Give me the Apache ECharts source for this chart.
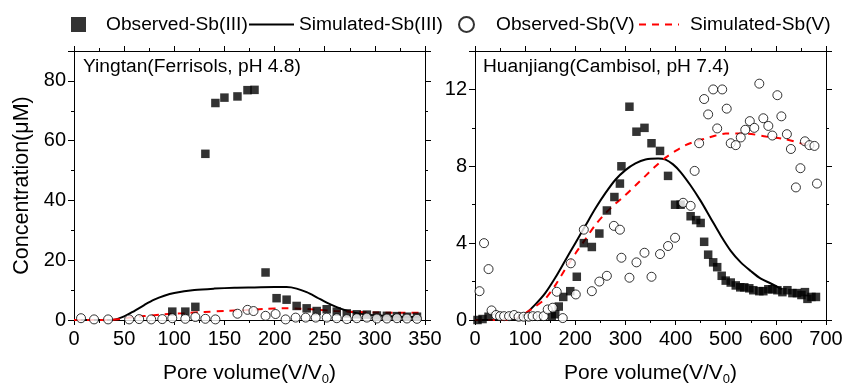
<!DOCTYPE html>
<html>
<head>
<meta charset="utf-8">
<script src="https://cdn.jsdelivr.net/npm/echarts@6/dist/echarts.min.js"></script>
<style>
  html, body { margin: 0; padding: 0; background: #fff; }
  #chart { width: 845px; height: 390px; }
</style>
</head>
<body>
<div id="chart"></div>
<script>
// Yingtan (left panel)
var ytObs3 = [[98,2.8],[111,2.8],[121,4.4],[131,55.6],[141,72.6],[150,74.4],[163,74.8],[173,76.9],[180,77.0],
  [191,15.9],[202,7.3],[212,6.8],[222,4.7],[232,3.9],[242,3.0],[252,3.6],[262,2.8],[272,2.2],[282,1.9],
  [292,1.8],[302,1.5],[312,1.4],[322,1.3],[332,1.1],[342,1.1]];
var ytObs5 = [[7,0.6],[20,0.2],[34,0.2],[55,0.2],[65,0.3],[77,0.2],[88,0.3],[98,0.6],[111,0.4],[121,1.0],
  [131,0.4],[141,0.2],[163,2.1],[173,3.4],[179,3.0],[191,1.4],[201,2.0],[211,0.2],[221,0.8],[231,0.8],
  [241,0.8],[252,0.8],[262,0.6],[272,0.3],[282,0.6],[292,0.8],[302,0.5],[312,0.5],[322,0.6],[332,0.5],[342,0.4]];
var ytSim3 = [[0,0],[30,0],[40,0.1],[50,1.2],[60,3.0],[70,5.0],[80,6.8],[90,8.1],[100,9.0],[120,10.0],
  [140,10.5],[160,10.8],[180,10.9],[200,11.0],[212,11.0],[222,10.5],[232,9.3],[242,7.6],[252,5.8],
  [262,4.3],[272,3.1],[282,2.3],[292,1.8],[305,1.5],[320,1.2],[345,1.0]];
var ytSim5 = [[0,0],[35,0],[45,0.3],[55,0.8],[70,1.3],[90,1.9],[110,2.3],[130,2.7],[150,3.0],[170,3.3],
  [190,3.7],[210,3.9],[225,3.8],[240,3.5],[260,3.0],[280,2.7],[300,2.5],[320,2.4],[345,2.4]];

// Huanjiang (right panel)
var hjObs3 = [[5,0],[15,0.05],[27,0.17],[153,0.2],[160,0.3],[167,0.7],[176,1.2],[190,1.5],[203,2.25],
  [217,4.0],[233,3.8],[248,4.5],[263,5.7],[278,6.4],[289,7.1],[292,8.0],[308,11.1],[322,9.8],[338,10.0],
  [352,9.2],[369,8.8],[385,7.5],[399,6.0],[410,6.0],[430,5.4],[441,5.2],[450,5.05],[457,4.07],[465,3.4],
  [475,3.0],[483,2.75],[492,2.3],[500,2.05],[510,1.95],[520,1.8],[529,1.7],[537,1.7],[547,1.65],[555,1.55],
  [567,1.5],[575,1.5],[585,1.6],[593,1.6],[603,1.55],[613,1.45],[623,1.55],[633,1.4],[642,1.4],[651,1.3],
  [658,1.45],[663,1.1],[671,1.2],[680,1.2]];
var hjObs5 = [[9,1.5],[18,4.0],[27,2.65],[33,0.5],[42,0.26],[50,0.2],[58,0.2],[68,0.2],[78,0.26],[87,0.17],
  [97,0.17],[107,0.17],[115,0.2],[125,0.2],[137,0.2],[145,0.55],[155,0.64],[163,1.47],[175,0.1],[191,2.95],
  [201,1.33],[217,4.7],[233,1.5],[248,2.0],[263,2.3],[277,4.9],[289,4.7],[292,3.24],[308,2.2],[322,3.0],
  [338,3.5],[352,2.25],[369,3.43],[385,3.85],[399,4.28],[415,6.1],[430,5.94],[438,7.76],[447,9.2],[457,11.5],
  [465,10.7],[475,12.0],[483,9.97],[493,12.0],[502,11.0],[510,9.2],[520,9.1],[530,9.5],[539,9.9],[548,10.35],
  [557,10.0],[567,12.3],[575,10.5],[585,10.1],[593,9.6],[603,11.7],[611,10.6],[622,9.67],[630,8.9],[640,6.9],
  [649,7.9],[658,9.3],[667,9.1],[677,9.06],[682,7.1]];
var hjSim3 = [[0,0],[80,0],[90,0.15],[100,0.3],[120,0.8],[140,1.4],[160,2.2],[180,3.1],[200,4.0],[220,4.9],
  [240,5.8],[260,6.6],[280,7.3],[300,7.8],[320,8.15],[340,8.35],[365,8.4],[380,8.35],[395,8.1],[410,7.7],
  [430,7.0],[450,6.2],[470,5.3],[490,4.4],[510,3.6],[530,3.0],[550,2.55],[570,2.15],[590,1.9],[612,1.6]];
var hjSim5 = [[0,0],[60,0],[80,0.1],[100,0.35],[120,0.7],[140,1.1],[160,1.8],[180,2.65],[200,3.45],[220,4.2],
  [240,4.95],[260,5.55],[280,6.05],[300,6.5],[320,7.0],[340,7.5],[360,8.0],[380,8.45],[400,8.8],[420,9.1],
  [440,9.3],[460,9.45],[480,9.6],[500,9.7],[540,9.7],[580,9.55],[620,9.4],[650,9.2],[670,9.1]];

var names = ['Observed-Sb(III)', 'Simulated-Sb(III)', 'Observed-Sb(V)', 'Simulated-Sb(V)'];
var titles = ['Yingtan(Ferrisols, pH 4.8)', 'Huanjiang(Cambisol, pH 7.4)'];

var font = 'Liberation Sans, Arial, sans-serif';
var xName = 'Pore volume(V/V{sub|0})';

function xAxisOf(grid, max, interval, pos) {
  var bottom = pos === 'bottom';
  return {
    type: 'value', gridIndex: grid, position: pos, min: 0, max: max, interval: interval,
    name: bottom ? xName : '', nameLocation: 'middle', nameGap: 40,
    nameTextStyle: { fontFamily: font, fontSize: 21, color: '#000',
      rich: { sub: { fontFamily: font, fontSize: 13, color: '#000', padding: [13, 0, 0, 0] } } },
    axisLine: { show: true, onZero: false, lineStyle: { color: '#000', width: 1 } },
    axisTick: { show: true, inside: false, length: 5, lineStyle: { color: '#000' } },
    minorTick: { show: true, splitNumber: 2, length: 3, lineStyle: { color: '#000' } },
    axisLabel: { show: bottom, fontFamily: font, fontSize: 20, color: '#000', margin: 9 },
    splitLine: { show: false }
  };
}

function yAxisOf(grid, max, interval, pos, name) {
  var left = pos === 'left';
  return {
    type: 'value', gridIndex: grid, position: pos, min: 0, max: max, interval: interval,
    name: name || '', nameLocation: 'middle', nameGap: 41, nameRotate: 90,
    nameTextStyle: { fontFamily: font, fontSize: 21.5, color: '#000' },
    axisLine: { show: true, onZero: false, lineStyle: { color: '#000', width: 1 } },
    axisTick: { show: true, inside: false, length: 6, lineStyle: { color: '#000' } },
    minorTick: { show: true, splitNumber: 2, length: 3, lineStyle: { color: '#000' } },
    axisLabel: { show: left, showMaxLabel: false, fontFamily: font, fontSize: 20, color: '#000', margin: 8 },
    splitLine: { show: false }
  };
}

function scatterOf(name, data, xi, yi) {
  var filled = name.indexOf('III') > 0;
  return {
    name: name, type: 'scatter', xAxisIndex: xi, yAxisIndex: yi, data: data,
    symbol: filled ? 'rect' : 'circle', symbolSize: filled ? 8.5 : 9,
    itemStyle: filled ? { color: '#000' } : { color: '#fff', borderColor: '#000', borderWidth: 1 }
  };
}

function lineOf(name, data, xi, yi) {
  var red = name.indexOf('(V)') > 0;
  return {
    name: name, type: 'line', xAxisIndex: xi, yAxisIndex: yi, data: data,
    smooth: 0.3, symbol: 'none', color: red ? '#ff0000' : '#000',
    lineStyle: { color: red ? '#ff0000' : '#000', width: 2, type: red ? [7, 6] : 'solid' },
    z: 1
  };
}

// one legend per entry so each can sit where the reference puts it
function legendOf(name, left, w, pad, isLine) {
  var lg = {
    data: [name], left: left, top: 15, padding: 0, itemWidth: w, itemHeight: 15, itemGap: 0,
    selectedMode: false,
    textStyle: { fontFamily: font, fontSize: 19.2, color: '#000', padding: [0, 0, 0, pad] }
  };
  if (isLine) lg.itemStyle = { opacity: 0 };
  return lg;
}

var chart = echarts.init(document.getElementById('chart'), null, { renderer: 'canvas' });
chart.setOption({
  animation: false,
  backgroundColor: '#fff',
  title: [
    { text: titles[0], left: 83, top: 57, padding: 0,
      textStyle: { fontFamily: font, fontSize: 19.2, fontWeight: 'normal', color: '#000' } },
    { text: titles[1], left: 483, top: 57, padding: 0,
      textStyle: { fontFamily: font, fontSize: 19.2, fontWeight: 'normal', color: '#000' } }
  ],
  legend: [
    legendOf(names[0], 71, 15, 15, false),
    legendOf(names[1], 248, 45, 0, true),
    legendOf(names[2], 458, 15, 17, false),
    legendOf(names[3], 638, 40, 6, true)
  ],
  grid: [
    { left: 74, top: 51, width: 351, height: 269, outerBoundsMode: 'none' },
    { left: 475, top: 51, width: 351, height: 269, outerBoundsMode: 'none' }
  ],
  xAxis: [
    xAxisOf(0, 350, 50, 'bottom'),
    xAxisOf(0, 350, 50, 'top'),
    xAxisOf(1, 700, 100, 'bottom'),
    xAxisOf(1, 700, 100, 'top')
  ],
  yAxis: [
    yAxisOf(0, 90, 20, 'left', 'Concentration(μM)'),
    yAxisOf(0, 90, 20, 'right'),
    yAxisOf(1, 14, 4, 'left'),
    yAxisOf(1, 14, 4, 'right')
  ],
  series: [
    lineOf(names[1], ytSim3, 0, 0),
    lineOf(names[3], ytSim5, 0, 0),
    scatterOf(names[0], ytObs3, 0, 0),
    scatterOf(names[2], ytObs5, 0, 0),
    lineOf(names[1], hjSim3, 2, 2),
    lineOf(names[3], hjSim5, 2, 2),
    scatterOf(names[0], hjObs3, 2, 2),
    scatterOf(names[2], hjObs5, 2, 2)
  ]
});
</script>
</body>
</html>
